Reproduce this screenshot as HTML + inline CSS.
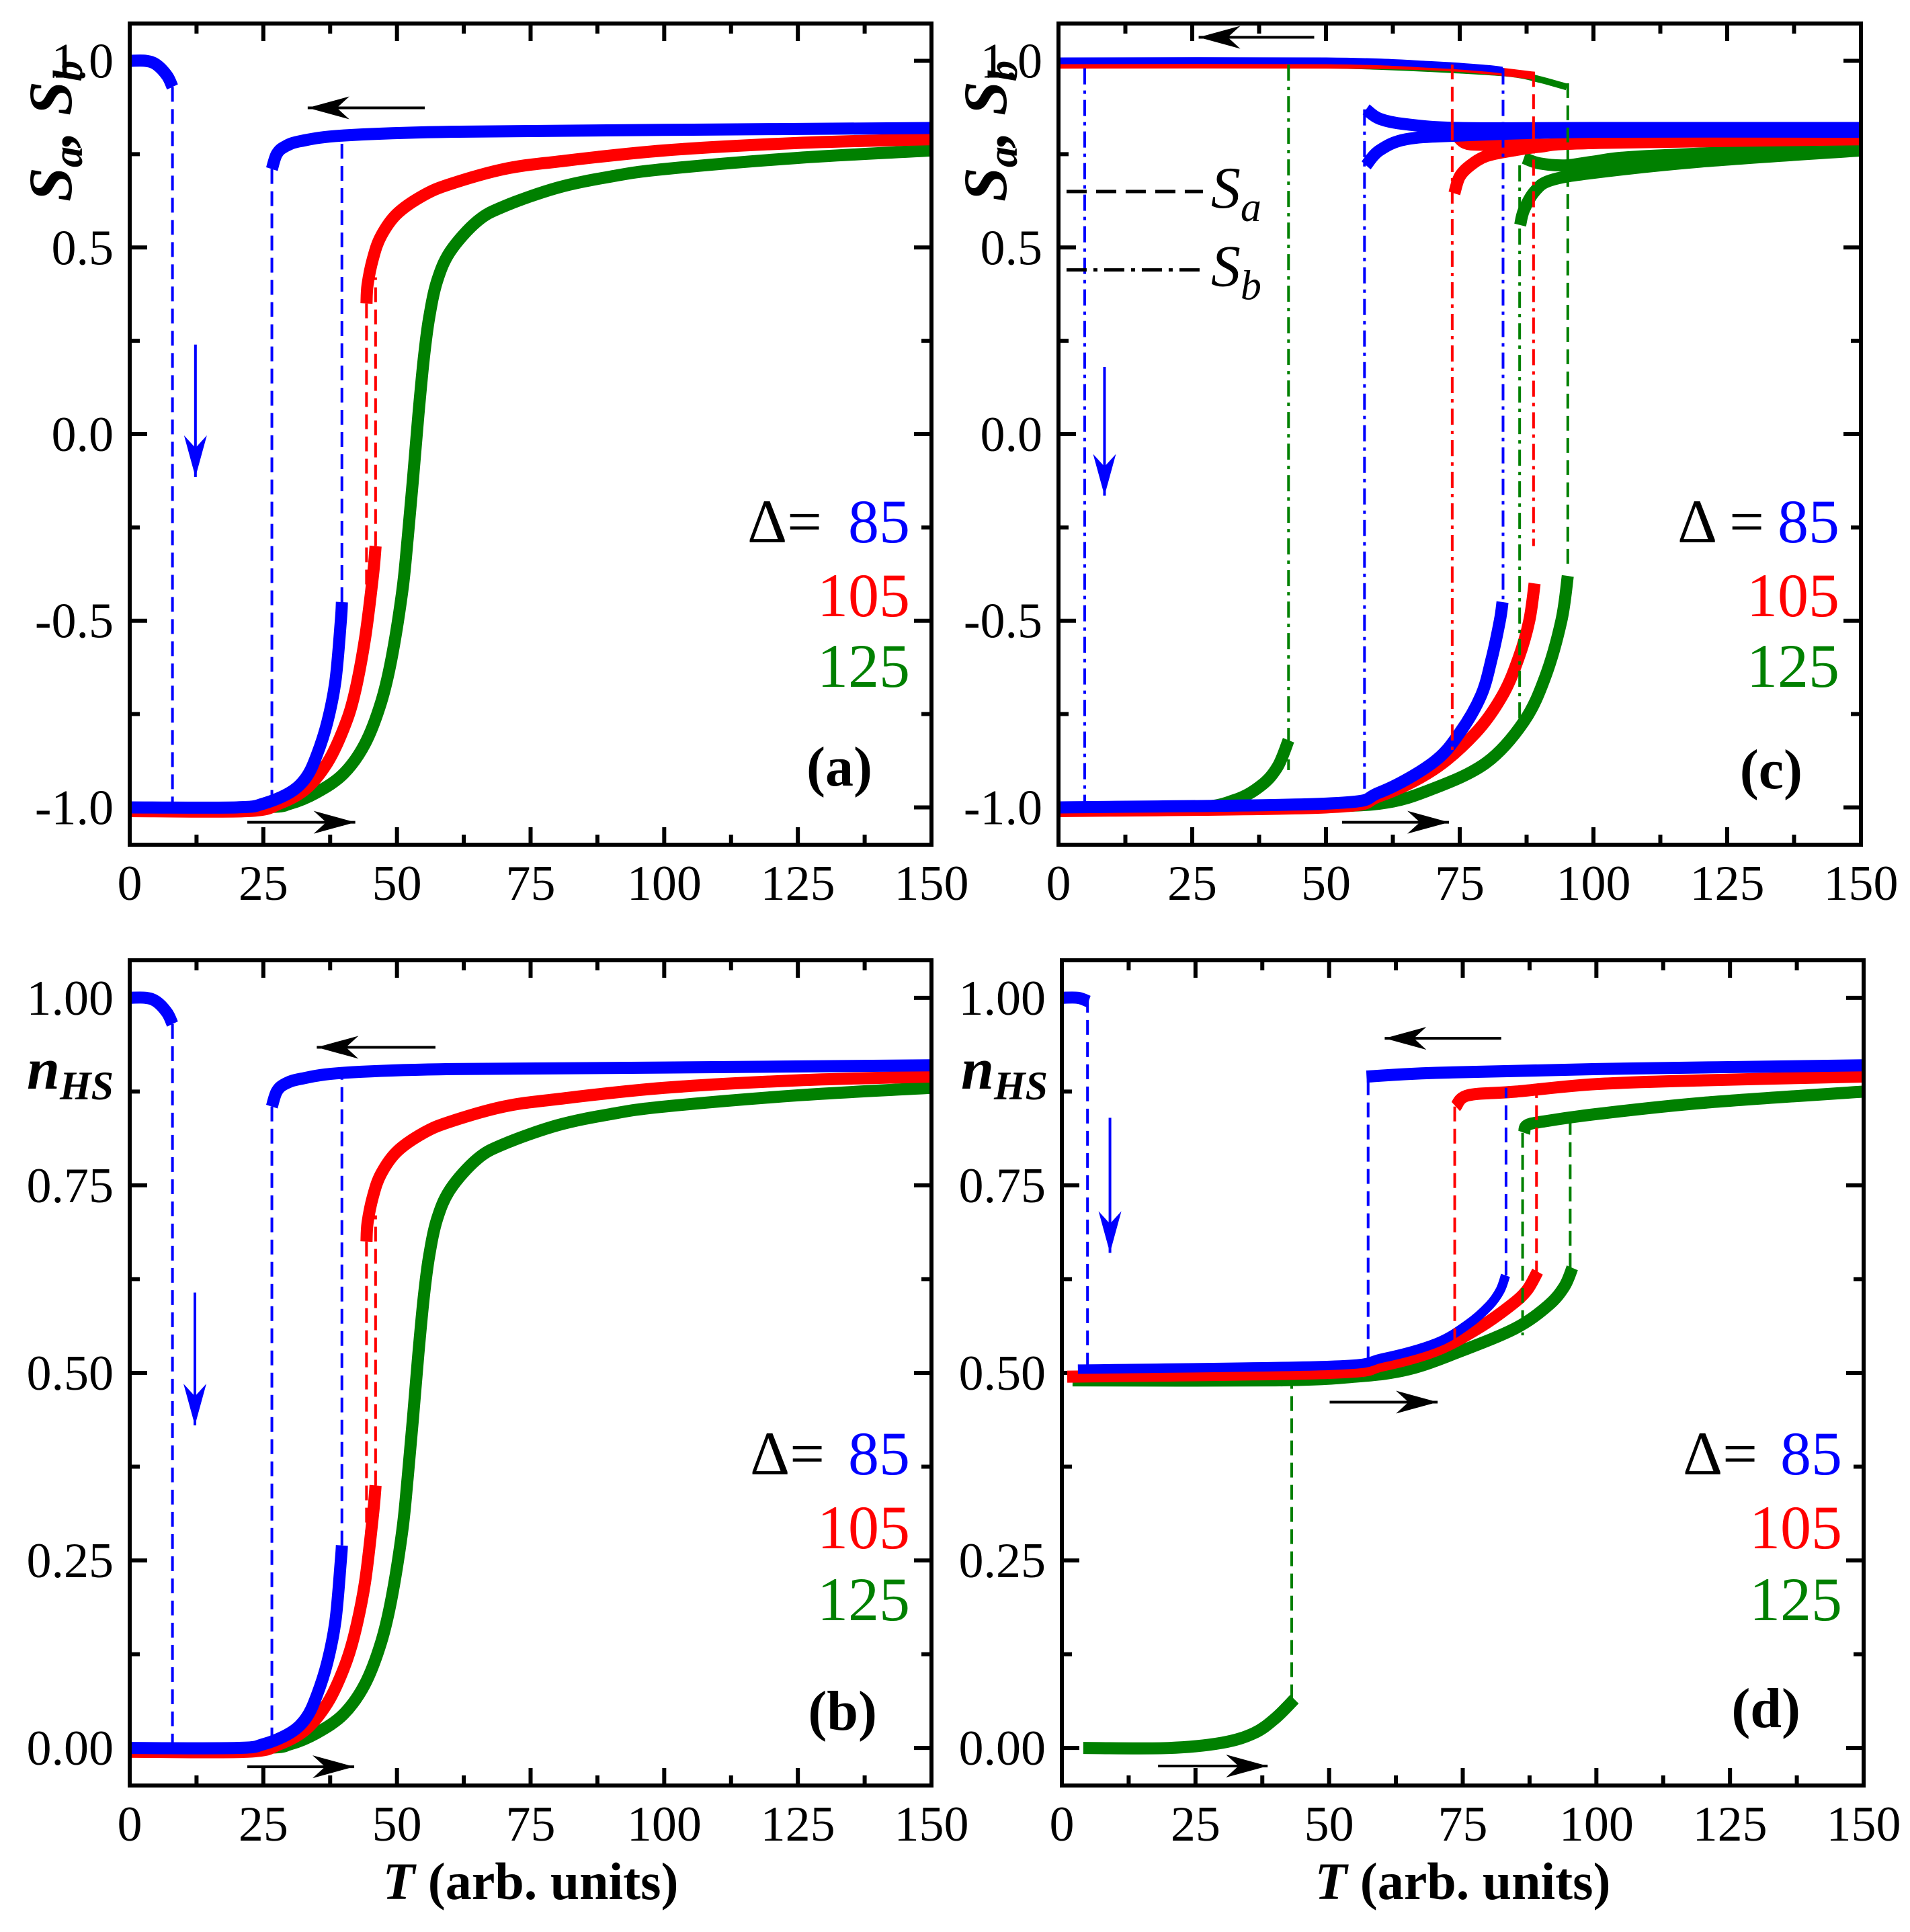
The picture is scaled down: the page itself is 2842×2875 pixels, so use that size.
<!DOCTYPE html>
<html><head><meta charset="utf-8">
<style>
html,body{margin:0;padding:0;background:#fff}
svg{display:block}
text{font-family:"Liberation Serif","Times New Roman",serif}
</style></head>
<body>
<svg id="fig" xmlns="http://www.w3.org/2000/svg" width="2842" height="2875" viewBox="0 0 2842 2875" font-family="Liberation Serif, Times New Roman, serif">
</svg>
<script>
// ---------- Panel (a) data: S vs T ----------
const aBlueLowT=[0,3,5,7,8], aBlueLowV=[1.0,1.0,0.99,0.96,0.93];
const aBlueHeatT=[0,20,25,30,33,35,37,38.5,39.5,39.7], aBlueHeatV=[-1,-1,-0.99,-0.96,-0.92,-0.86,-0.77,-0.66,-0.5,-0.45];
const aBlueCoolT=[150,100,60,40,32,29,27.5,26.6], aBlueCoolV=[0.82,0.815,0.81,0.8,0.785,0.77,0.75,0.71];
const aRedHeatT=[0,22,28,33,37,40,42,44,45.5,46], aRedHeatV=[-1.01,-1.01,-0.99,-0.95,-0.88,-0.79,-0.7,-0.55,-0.38,-0.3];
const aRedCoolT=[150,125,100,80,70,60,55,50,47,45.5,44.5,44.3], aRedCoolV=[0.79,0.78,0.76,0.73,0.71,0.67,0.64,0.59,0.53,0.47,0.4,0.35];
const aGreenT=[0,25,30,35,40,44,47,49,51,52,53,54,55,56,57.5,60,65,70,80,90,100,125,150];
const aGreenV=[-1.01,-1.0,-0.99,-0.96,-0.91,-0.83,-0.72,-0.6,-0.42,-0.28,-0.12,0.05,0.2,0.31,0.41,0.49,0.57,0.61,0.66,0.69,0.71,0.74,0.76];
const aVlineT=[8,26.6,39.7,44.3,46], aVlineFrom=[0.93,0.71,-0.45,0.35,-0.3], aVlineTo=[-1,-1,0.8,-0.58,0.42];
const aVlineColor=['#0000ff','#0000ff','#0000ff','#ff0000','#ff0000'];

// ---------- Panel (b) data: nHS vs T ----------
const bBlueLowT=[0,3,5,7,8], bBlueLowV=[1.0,1.0,0.995,0.98,0.965];
const bBlueHeatT=[0,20,25,30,33,35,37,38.5,39.5,39.7], bBlueHeatV=[0,0,0.005,0.02,0.04,0.07,0.115,0.17,0.25,0.27];
const bBlueCoolT=[150,100,60,40,32,29,27.5,26.6], bBlueCoolV=[0.91,0.907,0.905,0.9,0.892,0.885,0.875,0.855];
const bRedHeatT=[0,22,28,33,37,40,42,44,45.5,46], bRedHeatV=[-0.005,-0.005,0.005,0.025,0.06,0.105,0.15,0.22,0.31,0.35];
const bRedCoolT=[150,125,100,80,70,60,55,50,47,45.5,44.5,44.3], bRedCoolV=[0.895,0.89,0.88,0.865,0.855,0.835,0.82,0.795,0.765,0.735,0.7,0.675];
const bGreenT=[0,25,30,35,40,44,47,49,51,52,53,54,55,56,57.5,60,65,70,80,90,100,125,150];
const bGreenV=[-0.005,0,0.005,0.02,0.045,0.085,0.14,0.2,0.29,0.36,0.44,0.525,0.6,0.655,0.705,0.745,0.785,0.805,0.83,0.845,0.855,0.87,0.88];
const bVlineT=[8,26.6,39.7,44.3,46], bVlineFrom=[0.965,0.855,0.27,0.675,0.35], bVlineTo=[0,0,0.9,0.21,0.71];
const bVlineColor=['#0000ff','#0000ff','#0000ff','#ff0000','#ff0000'];

// ---------- Panel (c) data: Sa, Sb vs T ----------
const cBlueTopT=[0,50,70,80,83], cBlueTopV=[1.0,1.0,0.99,0.98,0.975];
const cBlueHeatT=[0,50,60,70,75,79,81,82.5,83], cBlueHeatV=[-1,-0.99,-0.96,-0.88,-0.8,-0.7,-0.6,-0.5,-0.45];
const cBlueCoolAT=[150,100,75,65,60,57.5], cBlueCoolAV=[0.82,0.82,0.82,0.83,0.845,0.87];
const cBlueCoolBT=[150,100,75,65,60,57.5], cBlueCoolBV=[0.81,0.81,0.8,0.79,0.76,0.72];
const cRedTopT=[0,50,70,80,89], cRedTopV=[0.99,0.99,0.985,0.975,0.96];
const cRedHeatT=[0,50,60,70,78,83,86,88,89], cRedHeatV=[-1.01,-1.0,-0.97,-0.9,-0.8,-0.7,-0.6,-0.5,-0.4];
const cRedCoolAT=[150,100,90,80,76,74], cRedCoolAV=[0.8,0.78,0.775,0.775,0.78,0.81];
const cRedCoolBT=[150,100,90,85,80,77,75,74], cRedCoolBV=[0.79,0.78,0.77,0.76,0.745,0.72,0.69,0.645];
const cGreenTopT=[45,60,75,85,90,95], cGreenTopV=[0.99,0.985,0.975,0.965,0.95,0.93];
const cGreenBumpT=[0,25,33,38,41,43], cGreenBumpV=[-1.0,-1.0,-0.98,-0.94,-0.89,-0.82];
const cGreenHeatT=[43,60,70,80,87,91,94,95.2], cGreenHeatV=[-1.0,-0.99,-0.95,-0.88,-0.77,-0.65,-0.5,-0.38];
const cGreenCoolAT=[150,110,100,95,90,87], cGreenCoolAV=[0.77,0.745,0.73,0.72,0.725,0.74];
const cGreenCoolBT=[150,120,100,92,89,87,86.3], cGreenCoolBV=[0.76,0.73,0.7,0.68,0.65,0.6,0.56];
const cVlineT=[4.9,43,57.2,73.6,73.6,83.1,86.2,88.8,88.8,95.2];
const cVlineFrom=[0.98,0.99,0.87,0.83,0.99,0.98,0.72,0.82,0.97,0.94];
const cVlineTo=[-1.0,-0.9,-0.96,-0.87,0.81,-0.45,-0.77,-0.3,0.82,-0.36];
const cVlineColor=['#0000ff','#008000','#0000ff','#ff0000','#ff0000','#0000ff','#008000','#ff0000','#ff0000','#008000'];
const cVlineDash=['dd','dd','dd','dd','d','dd','dd','dd','d','d'];

// ---------- Panel (d) data: nHS vs T ----------
const dBlueLowT=[0,3,5], dBlueLowV=[1.0,1.0,0.995];
const dBlueHeatT=[3,50,60,70,76,80,82,83], dBlueHeatV=[0.505,0.51,0.52,0.54,0.565,0.59,0.61,0.63];
const dBlueCoolT=[150,100,70,57], dBlueCoolV=[0.91,0.905,0.9,0.895];
const dRedHeatT=[1,50,60,70,78,84,87,89], dRedHeatV=[0.495,0.5,0.51,0.53,0.56,0.59,0.61,0.635];
const dRedCoolT=[150,120,100,85,76,73.7], dRedCoolV=[0.895,0.89,0.885,0.875,0.87,0.855];
const dGreenBumpT=[4,20,30,36,40,43.5], dGreenBumpV=[0,0,0.007,0.02,0.04,0.065];
const dGreenHeatT=[2,40,55,65,75,85,91,94,95.5], dGreenHeatV=[0.49,0.49,0.495,0.505,0.53,0.56,0.59,0.615,0.64];
const dGreenCoolT=[150,120,100,90,87,86.5], dGreenCoolV=[0.875,0.86,0.845,0.835,0.83,0.82];
const dVlineT=[4.8,57.3,83.1,73.5,88.8,43,86.2,95.1];
const dVlineFrom=[1.0,0.89,0.63,0.855,0.63,0.065,0.82,0.64];
const dVlineTo=[0.5,0.51,0.88,0.54,0.88,0.49,0.55,0.84];
const dVlineColor=['#0000ff','#0000ff','#0000ff','#ff0000','#ff0000','#008000','#008000','#008000'];

// ticks
const xTicks=[0,25,50,75,100,125,150];
const xTickLabels=['0','25','50','75','100','125','150'];
const sTicks=[-1,-0.5,0,0.5,1], sTickLabels=['-1.0','-0.5','0.0','0.5','1.0'];
const nTicks=[0,0.25,0.5,0.75,1], nTickLabels=['0.00','0.25','0.50','0.75','1.00'];
const legendVals=['85','105','125'];

const NS='http://www.w3.org/2000/svg';
const FONT='Liberation Serif, Times New Roman, serif';
const svg=document.getElementById('fig');
function el(tag,parent){const e=document.createElementNS(NS,tag);parent.appendChild(e);return e;}

const BLUE='#0000ff',RED='#ff0000',GREEN='#008000';
const CW=18;

function makePanel(id,l,r,t,b,ymin,ymax,yT,yL,yMinorStep){
  const g=el('g',svg);
  
  
  const sx=v=>l+(v-0)/(150-0)*(r-l);
  const sy=v=>b-(v-ymin)/(ymax-ymin)*(b-t);
  for(let v=0;v<=150.001;v+=12.5){
    const major=Math.abs(v/25-Math.round(v/25))<1e-6;
    const len=major?26:15;
    for(const edge of [b,t]){
      const tk=el('line',g);
      
      
      tk.setAttribute('x1',sx(v));tk.setAttribute('x2',sx(v));
      tk.setAttribute('y1',edge);tk.setAttribute('y2',edge===b?b-len:t+len);
      tk.setAttribute('stroke','#000');tk.setAttribute('stroke-width',6);
    }
  }
  for(let v=yT[0]-yMinorStep;v<=ymax;v+=yMinorStep){
    if(v<ymin)continue;
    const major=yT.some(q=>Math.abs(q-v)<1e-6);
    const len=major?26:15;
    for(const edge of [l,r]){
      const tk=el('line',g);
      
      
      tk.setAttribute('y1',sy(v));tk.setAttribute('y2',sy(v));
      tk.setAttribute('x1',edge);tk.setAttribute('x2',edge===l?l+len:r-len);
      tk.setAttribute('stroke','#000');tk.setAttribute('stroke-width',6);
    }
  }
  xTicks.forEach((v,i)=>{
    const tx=el('text',g);
    
    
    tx.setAttribute('x',sx(v));tx.setAttribute('y',b+82);
    tx.setAttribute('font-family',FONT);
    tx.setAttribute('text-anchor','middle');tx.setAttribute('font-size',74);
    tx.textContent=xTickLabels[i];
  });
  yT.forEach((v,i)=>{
    const tx=el('text',g);
    
    
    tx.setAttribute('x',l-24);tx.setAttribute('y',sy(v)+25);
    tx.setAttribute('font-family',FONT);
    tx.setAttribute('text-anchor','end');tx.setAttribute('font-size',74);
    tx.textContent=yL[i];
  });
  return {g,sx,sy,l,r,t,b};
}

function pathD(P,xs,ys){
  const pts=xs.map((x,i)=>[P.sx(x),P.sy(ys[i])]);
  let d='M'+pts[0][0]+','+pts[0][1];
  for(let i=0;i<pts.length-1;i++){
    const p0=pts[i-1]||pts[i],p1=pts[i],p2=pts[i+1],p3=pts[i+2]||p2;
    const c1=[p1[0]+(p2[0]-p0[0])/6,p1[1]+(p2[1]-p0[1])/6];
    const c2=[p2[0]-(p3[0]-p1[0])/6,p2[1]-(p3[1]-p1[1])/6];
    d+=' C'+c1[0]+','+c1[1]+' '+c2[0]+','+c2[1]+' '+p2[0]+','+p2[1];
  }
  return d;
}
function curve(P,xs,ys,color,name,w){
  const p=el('path',P.g);
  
  
  p.setAttribute('d',pathD(P,xs,ys));
  p.setAttribute('fill','none');p.setAttribute('stroke',color);
  p.setAttribute('stroke-width',w||CW);p.setAttribute('stroke-linecap','butt');
}
function vlines(P,T,F,To,C,D){
  T.forEach((x,i)=>{
    const ln=el('line',P.g);
    
    
    ln.setAttribute('x1',P.sx(x));ln.setAttribute('x2',P.sx(x));
    ln.setAttribute('y1',P.sy(F[i]));ln.setAttribute('y2',P.sy(To[i]));
    ln.setAttribute('stroke',C[i]);ln.setAttribute('stroke-width',4);
    ln.setAttribute('stroke-dasharray',(D&&D[i]==='dd')?'24,9,5,9':'22,11');
  });
}
function arrow(P,x1,y1,x2,y2,color,name){
  const a=el('g',P.g);
  
  
  const X1=P.sx(x1),Y1=P.sy(y1),X2=P.sx(x2),Y2=P.sy(y2);
  const ln=el('line',a);
  
  
  ln.setAttribute('x1',X1);ln.setAttribute('y1',Y1);ln.setAttribute('x2',X2);ln.setAttribute('y2',Y2);
  ln.setAttribute('stroke',color);ln.setAttribute('stroke-width',4);
  const ang=Math.atan2(Y2-Y1,X2-X1),L=62,Wd=17;
  const bx=X2-L*Math.cos(ang),by=Y2-L*Math.sin(ang);
  const nx=-Math.sin(ang)*Wd,ny=Math.cos(ang)*Wd;
  const mx=X2-L*0.7*Math.cos(ang),my=Y2-L*0.7*Math.sin(ang);
  const hd=el('path',a);
  
  
  hd.setAttribute('d','M'+X2+','+Y2+' L'+(bx+nx)+','+(by+ny)+' L'+mx+','+my+' L'+(bx-nx)+','+(by-ny)+' Z');
  hd.setAttribute('fill',color);
}
function frame(P){
  const f=el('rect',P.g);
  
  
  f.setAttribute('x',P.l);f.setAttribute('y',P.t);f.setAttribute('width',P.r-P.l);f.setAttribute('height',P.b-P.t);
  f.setAttribute('fill','none');f.setAttribute('stroke','#000');f.setAttribute('stroke-width',6);
}
function txt(P,x,y,s,size,opts,name){
  const t=el('text',P.g);
  
  
  t.setAttribute('x',x);t.setAttribute('y',y);t.setAttribute('font-size',size);
  t.setAttribute('font-family',FONT);
  if(opts.anchor)t.setAttribute('text-anchor',opts.anchor);
  if(opts.weight)t.setAttribute('font-weight',opts.weight);
  if(opts.fill)t.setAttribute('fill',opts.fill);
  if(opts.style)t.setAttribute('font-style',opts.style);
  t.innerHTML=s;
  return t;
}
function legend(P,dx,ys,lbl){
  txt(P,dx,ys[0],'Δ'+(lbl?' = ':'= '),92,{},'legend-delta');
  const cols=[BLUE,RED,GREEN];
  legendVals.forEach((v,i)=>{
    txt(P,P.r-32,ys[i],v,92,{anchor:'end',fill:cols[i]},'legend-entry-'+v);
  });
}
const SAB='<tspan>S</tspan><tspan font-size="62" dy="16">a</tspan><tspan dy="-16">, S</tspan><tspan font-size="62" dy="16">b</tspan>';
const NHS='n<tspan font-size="60" dy="16">HS</tspan>';

// ===== Panel (a)
const A=makePanel('a',193,1386,35,1257,-1.1,1.1,sTicks,sTickLabels,0.25);
curve(A,aGreenT,aGreenV,GREEN,'curve-green-125');
curve(A,aRedHeatT,aRedHeatV,RED,'curve-red-heating');
curve(A,aRedCoolT,aRedCoolV,RED,'curve-red-cooling');
curve(A,aBlueHeatT,aBlueHeatV,BLUE,'curve-blue-heating');
curve(A,aBlueCoolT,aBlueCoolV,BLUE,'curve-blue-cooling');
curve(A,aBlueLowT,aBlueLowV,BLUE,'curve-blue-low-t');
vlines(A,aVlineT,aVlineFrom,aVlineTo,aVlineColor);
arrow(A,55.2,0.874,33.3,0.874,'#000','cooling-arrow');
arrow(A,22,-1.04,42.2,-1.04,'#000','heating-arrow');
arrow(A,12.3,0.24,12.3,-0.115,BLUE,'blue-down-arrow');
legend(A,1112,[807,917,1022],false);
txt(A,1298,1169,'(a)',84,{anchor:'end',weight:'bold'},'panel-label-a');
frame(A);
txt(A,0,0,SAB,92,{anchor:'middle',weight:'bold',style:'italic'},'y-axis-title-a').setAttribute('transform','translate(106,195) rotate(-90)');

// ===== Panel (b)
const B=makePanel('b',193,1386,1429,2657,-0.05,1.05,nTicks,nTickLabels,0.125);
curve(B,bGreenT,bGreenV,GREEN,'curve-green-125');
curve(B,bRedHeatT,bRedHeatV,RED,'curve-red-heating');
curve(B,bRedCoolT,bRedCoolV,RED,'curve-red-cooling');
curve(B,bBlueHeatT,bBlueHeatV,BLUE,'curve-blue-heating');
curve(B,bBlueCoolT,bBlueCoolV,BLUE,'curve-blue-cooling');
curve(B,bBlueLowT,bBlueLowV,BLUE,'curve-blue-low-t');
vlines(B,bVlineT,bVlineFrom,bVlineTo,bVlineColor);
arrow(B,57.2,0.934,35,0.934,'#000','cooling-arrow');
arrow(B,22,-0.025,42,-0.025,'#000','heating-arrow');
arrow(B,12.2,0.607,12.2,0.43,BLUE,'blue-down-arrow');
legend(B,1116,[2194,2304,2411],false);
txt(B,1305,2574,'(b)',84,{anchor:'end',weight:'bold'},'panel-label-b');
frame(B);
txt(B,40,1620,NHS,88,{weight:'bold',style:'italic'},'y-axis-title-b');
txt(B,(193+1386)/2,2826,'<tspan font-style="italic">T</tspan> (arb. units)',78,{anchor:'middle',weight:'bold'},'x-axis-title-b');

// ===== Panel (c)
const C=makePanel('c',1575,2769,35,1257,-1.1,1.1,sTicks,sTickLabels,0.25);
curve(C,cGreenBumpT,cGreenBumpV,GREEN,'curve-green-bump');
curve(C,cGreenHeatT,cGreenHeatV,GREEN,'curve-green-heating');
curve(C,cGreenTopT,cGreenTopV,GREEN,'curve-green-top',10);
curve(C,cGreenCoolAT,cGreenCoolAV,GREEN,'curve-green-cooling-sa');
curve(C,cGreenCoolBT,cGreenCoolBV,GREEN,'curve-green-cooling-sb');
curve(C,cRedHeatT,cRedHeatV,RED,'curve-red-heating');
curve(C,cRedTopT,cRedTopV,RED,'curve-red-top',12);
curve(C,cRedCoolAT,cRedCoolAV,RED,'curve-red-cooling-sa');
curve(C,cRedCoolBT,cRedCoolBV,RED,'curve-red-cooling-sb');
curve(C,cBlueHeatT,cBlueHeatV,BLUE,'curve-blue-heating');
curve(C,cBlueTopT,cBlueTopV,BLUE,'curve-blue-top',10);
curve(C,cBlueCoolAT,cBlueCoolAV,BLUE,'curve-blue-cooling-sa');
curve(C,cBlueCoolBT,cBlueCoolBV,BLUE,'curve-blue-cooling-sb');
vlines(C,cVlineT,cVlineFrom,cVlineTo,cVlineColor,cVlineDash);
arrow(C,47.8,1.063,26.2,1.063,'#000','cooling-arrow');
arrow(C,53,-1.04,73,-1.04,'#000','heating-arrow');
arrow(C,8.6,0.18,8.6,-0.165,BLUE,'blue-down-arrow');
[[0.65,'30,14','Sa','a'],[0.44,'30,10,6,10','Sb','b']].forEach(([v,da,nm,sub])=>{
  const ln=el('line',C.g);
  
  
  ln.setAttribute('x1',C.sx(1.5));ln.setAttribute('x2',C.sx(27));
  ln.setAttribute('y1',C.sy(v));ln.setAttribute('y2',C.sy(v));
  ln.setAttribute('stroke','#000');ln.setAttribute('stroke-width',5);ln.setAttribute('stroke-dasharray',da);
  txt(C,C.sx(28.5),C.sy(v)+24,'S<tspan font-size="62" dy="20">'+sub+'</tspan>',88,{style:'italic'},'line-style-label-'+nm);
});
legend(C,2496,[807,917,1022],true);
txt(C,2682,1173,'(c)',84,{anchor:'end',weight:'bold'},'panel-label-c');
frame(C);
txt(C,0,0,SAB,92,{anchor:'middle',weight:'bold',style:'italic'},'y-axis-title-c').setAttribute('transform','translate(1497,195) rotate(-90)');

// ===== Panel (d)
const D=makePanel('d',1580,2773,1429,2657,-0.05,1.05,nTicks,nTickLabels,0.125);
curve(D,dGreenBumpT,dGreenBumpV,GREEN,'curve-green-bump');
curve(D,dGreenHeatT,dGreenHeatV,GREEN,'curve-green-heating');
curve(D,dGreenCoolT,dGreenCoolV,GREEN,'curve-green-cooling');
curve(D,dRedHeatT,dRedHeatV,RED,'curve-red-heating');
curve(D,dRedCoolT,dRedCoolV,RED,'curve-red-cooling');
curve(D,dBlueHeatT,dBlueHeatV,BLUE,'curve-blue-heating',14);
curve(D,dBlueCoolT,dBlueCoolV,BLUE,'curve-blue-cooling');
curve(D,dBlueLowT,dBlueLowV,BLUE,'curve-blue-low-t');
vlines(D,dVlineT,dVlineFrom,dVlineTo,dVlineColor);
arrow(D,82.2,0.946,60.4,0.946,'#000','cooling-arrow');
arrow(D,50.1,0.461,70.3,0.461,'#000','heating-arrow');
arrow(D,18,-0.024,38.5,-0.024,'#000','heating-arrow-low');
arrow(D,9,0.84,9,0.66,BLUE,'blue-down-arrow');
legend(D,2504,[2194,2304,2411],false);
txt(D,2679,2570,'(d)',84,{anchor:'end',weight:'bold'},'panel-label-d');
frame(D);
txt(D,1430,1620,NHS,88,{weight:'bold',style:'italic'},'y-axis-title-d');
txt(D,(1580+2773)/2,2826,'<tspan font-style="italic">T</tspan> (arb. units)',78,{anchor:'middle',weight:'bold'},'x-axis-title-d');
</script>
</body></html>
